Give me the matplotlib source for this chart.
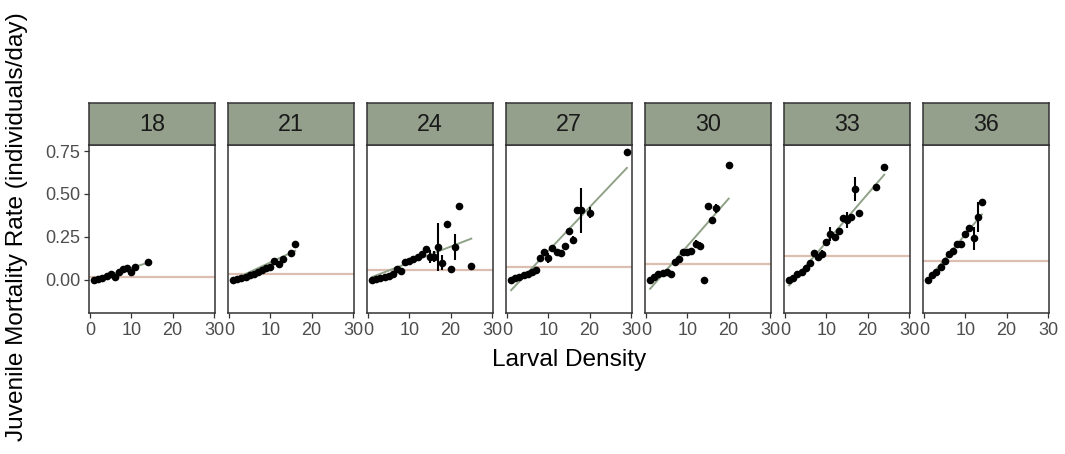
import matplotlib
matplotlib.use("Agg")
import matplotlib.pyplot as plt
import numpy as np

plt.rcParams['font.family'] = ['Liberation Sans', 'DejaVu Sans']

# ---------------- data ----------------
temps = ["18", "21", "24", "27", "30", "33", "36"]

x_18 = [1, 2, 3, 4, 5, 6, 7, 8, 9, 10, 11, 14]
y_18 = [0.0, 0.006, 0.012, 0.025, 0.033, 0.02, 0.045, 0.062, 0.072, 0.045, 0.076, 0.104]
e_18 = [0, 0, 0, 0, 0, 0, 0, 0, 0, 0, 0, 0]

x_21 = [1, 2, 3, 4, 5, 6, 7, 8, 9, 10, 11, 12, 13, 15, 16]
y_21 = [0.0, 0.006, 0.012, 0.02, 0.028, 0.036, 0.046, 0.056, 0.068, 0.076, 0.108, 0.093, 0.122, 0.155, 0.211]
e_21 = [0, 0, 0, 0, 0, 0, 0, 0, 0, 0, 0, 0, 0, 0, 0]

x_24 = [1, 2, 3, 4, 5, 6, 7, 8, 9, 10, 11, 12, 13, 14, 15, 16, 17, 18, 19, 20, 21, 22, 25]
y_24 = [0.0, 0.006, 0.012, 0.018, 0.024, 0.032, 0.062, 0.052, 0.103, 0.113, 0.122, 0.133, 0.15,
        0.178, 0.136, 0.136, 0.19, 0.10, 0.324, 0.062, 0.19, 0.43, 0.081]
e_24 = [0, 0, 0, 0, 0, 0, 0, 0, 0, 0, 0, 0, 0.015, 0.02, 0.04, 0.03, 0.14, 0.045, 0, 0, 0.075, 0, 0]

x_27 = [1, 2, 3, 4, 5, 6, 7, 8, 9, 10, 11, 12, 13, 14, 15, 16, 17, 18, 20, 29]
y_27 = [0.0, 0.009, 0.018, 0.027, 0.036, 0.046, 0.058, 0.13, 0.165, 0.126, 0.184, 0.165, 0.155,
        0.198, 0.286, 0.234, 0.407, 0.405, 0.392, 0.742]
e_27 = [0, 0, 0, 0, 0, 0, 0, 0, 0, 0.03, 0, 0, 0.01, 0, 0, 0.02, 0, 0.13, 0.03, 0]

x_30 = [1, 2, 3, 4, 5, 6, 7, 8, 9, 10, 11, 12, 13, 14, 15, 16, 17, 20]
y_30 = [0.0, 0.018, 0.035, 0.043, 0.045, 0.035, 0.105, 0.122, 0.165, 0.16, 0.168, 0.21, 0.2,
        0.0, 0.43, 0.35, 0.417, 0.67]
e_30 = [0, 0, 0, 0, 0, 0, 0, 0, 0, 0, 0.01, 0.02, 0.02, 0, 0, 0, 0.025, 0]

x_33 = [1, 2, 3, 4, 5, 6, 7, 8, 9, 10, 11, 12, 13, 14, 15, 16, 17, 18, 22, 24]
y_33 = [0.0, 0.01, 0.035, 0.048, 0.068, 0.1, 0.155, 0.136, 0.151, 0.223, 0.267, 0.252, 0.283,
        0.359, 0.349, 0.364, 0.527, 0.391, 0.539, 0.659]
e_33 = [0, 0, 0, 0, 0, 0, 0, 0, 0.025, 0, 0.04, 0, 0, 0, 0.045, 0, 0.07, 0, 0, 0]

x_36 = [1, 2, 3, 4, 5, 6, 7, 8, 9, 10, 11, 12, 13, 14]
y_36 = [0.0, 0.03, 0.048, 0.074, 0.11, 0.149, 0.169, 0.209, 0.209, 0.267, 0.30, 0.242, 0.366, 0.452]
e_36 = [0, 0, 0, 0, 0, 0, 0, 0, 0, 0, 0, 0.065, 0.085, 0]

fit_intercept = [-0.005, -0.01, 0.008, -0.085, -0.079, -0.06, -0.025]
fit_slope = [0.0075, 0.0112, 0.0093, 0.0254, 0.0276, 0.028, 0.029]
ref_level = [0.015, 0.035, 0.058, 0.077, 0.091, 0.141, 0.11]

xs = [x_18, x_21, x_24, x_27, x_30, x_33, x_36]
ys = [y_18, y_21, y_24, y_27, y_30, y_33, y_36]
es = [e_18, e_21, e_24, e_27, e_30, e_33, e_36]

x_ticks = [0, 10, 20, 30]
y_ticks = [0.0, 0.25, 0.50, 0.75]
y_ticklabels = ["0.00", "0.25", "0.50", "0.75"]

# ---------------- style ----------------
strip_col = "#94A08C"
border_col = "#333333"
fit_col = "#8FA288"
ref_col = "#DDBFB1"

W, H = 1065, 454
fig = plt.figure(figsize=(W / 100, H / 100), dpi=100)

pan_left0 = 88.7
pitch = 139.0
pan_w = 126.7
ax_top, ax_bot = 145.0, 313.3
strip_top = 103.3

for i, t in enumerate(temps):
    left = pan_left0 + pitch * i
    ax = fig.add_axes([left / W, 1 - ax_bot / H, pan_w / W, (ax_bot - ax_top) / H])
    sx = fig.add_axes([left / W, 1 - ax_top / H, pan_w / W, (ax_top - strip_top) / H])

    ax.set_xlim(-0.31, 30.34)
    ax.set_ylim(-0.194, 0.785)

    ax.axhline(ref_level[i], color=ref_col, lw=1.6, zorder=1)
    xa = np.array(xs[i], dtype=float)
    xx = np.array([xa.min(), xa.max()])
    ax.plot(xx, fit_intercept[i] + fit_slope[i] * xx, color=fit_col, lw=1.4, zorder=2)
    ea = np.array(es[i], dtype=float)
    m = ea > 0
    if m.any():
        ax.errorbar(xa[m], np.array(ys[i])[m], yerr=ea[m], fmt='none', ecolor='black',
                    elinewidth=1.5, capsize=0, zorder=3)
    ax.plot(xs[i], ys[i], 'o', color='black', ms=5.5, mew=0, zorder=4)

    ax.set_xticks(x_ticks)
    ax.set_xticklabels([str(v) for v in x_ticks])
    ax.set_yticks(y_ticks)
    if i == 0:
        ax.set_yticklabels(y_ticklabels)
    else:
        ax.tick_params(axis='y', left=False, labelleft=False)
    ax.tick_params(axis='both', direction='out', length=3.6, width=0.9, color=border_col,
                   labelsize=13, labelcolor="#4D4D4D", pad=2.5)
    for s in ax.spines.values():
        s.set_color(border_col)
        s.set_linewidth(1.1)

    sx.set_facecolor(strip_col)
    sx.set_xticks([])
    sx.set_yticks([])
    for s in sx.spines.values():
        s.set_color(border_col)
        s.set_linewidth(1.1)
    sx.text(0.5, 0.5, t, transform=sx.transAxes, ha='center', va='center',
            fontsize=16.8, color="#1A1A1A")

fig.text(569 / W, 1 - 360 / H, "Larval Density", ha='center', va='center', fontsize=17.6,
         color='black')
fig.text(17 / W, 1 - 227 / H, "Juvenile Mortality Rate (individuals/day)", ha='center',
         va='center', rotation=90, fontsize=17.6, color='black')

fig.savefig("out.png", dpi=100)
